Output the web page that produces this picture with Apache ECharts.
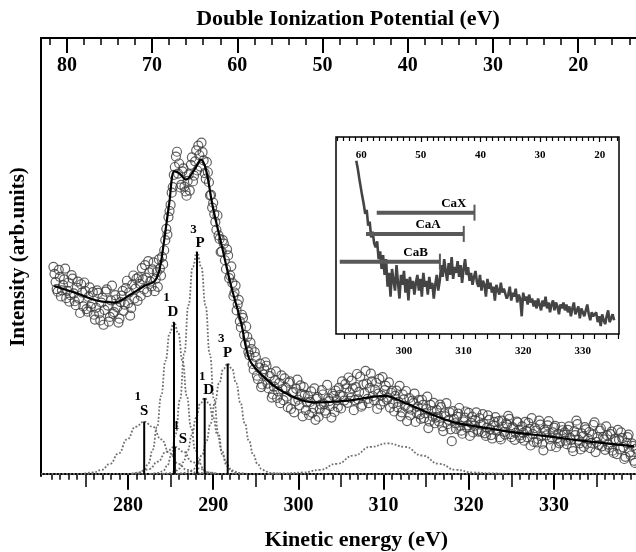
<!DOCTYPE html>
<html>
<head>
<meta charset="utf-8">
<script src="https://cdn.jsdelivr.net/npm/echarts@6/dist/echarts.min.js"></script>
<style>
  html, body { margin: 0; padding: 0; background: #fff; }
  #chart { width: 636px; height: 552px; }
</style>
</head>
<body>
<div id="chart"></div>
<script>
// ---- measured spectrum (kinetic energy grid + counts, arb. units), two sweeps ----
const scanStart = 271.25;
const scanStep = 0.25;
const scanCounts = [
  47.5, 44.0, 41.8, 45.2, 42.1, 44.6, 40.3, 43.9, 41.0, 44.8, 39.6, 42.7, 40.2, 43.5, 38.4, 41.9, 37.2, 42.8, 39.0, 36.5,
  38.1, 41.5, 35.2, 40.4, 37.6, 42.3, 34.9, 39.8, 36.7, 41.0, 38.2, 35.6, 40.9, 37.4, 42.6, 39.1, 36.3, 43.4, 40.2, 44.8,
  45.1, 40.8, 44.6, 47.9, 41.7, 46.2, 43.0, 48.5, 44.7, 42.9, 47.1, 49.8, 51.3, 56.2, 58.9, 61.7, 65.8, 70.4, 73.9, 71.2,
  66.3, 70.1, 64.8, 67.2, 65.0, 72.6, 68.4, 74.2, 75.3, 70.5, 73.8, 69.0, 71.5, 66.9, 64.0, 62.2, 57.8, 59.3, 53.9, 51.0,
  52.8, 47.0, 50.1, 45.5, 43.8, 41.6, 37.5, 39.9, 33.6, 35.8, 29.7, 31.4, 27.2, 28.6, 23.9, 26.8, 21.7, 25.3, 20.5, 24.0,
  24.8, 19.6, 23.1, 18.2, 21.5, 17.4, 20.8, 22.6, 16.9, 19.8, 15.3, 21.2, 18.6, 14.1, 19.5, 17.0, 20.3, 13.2, 18.1, 16.4,
  13.5, 18.9, 15.1, 12.4, 17.6, 14.8, 19.2, 16.0, 13.9, 17.3, 15.5, 18.4, 14.2, 16.9, 19.7, 15.0, 17.8, 20.6, 16.3, 18.7,
  21.4, 14.6, 19.9, 17.1, 22.3, 15.8, 18.5, 20.7, 16.2, 23.0, 17.8, 19.3, 14.9, 21.8, 18.0, 16.6, 20.2, 17.5, 15.2, 19.0,
  14.3, 19.1, 16.5, 13.2, 18.2, 15.6, 12.1, 17.4, 14.7, 16.2, 11.9, 15.4, 13.6, 17.0, 12.8, 14.9, 10.5, 15.8, 13.1, 11.6,
  14.6, 12.0, 15.3, 9.8, 13.2, 11.4, 14.1, 7.5, 12.6, 10.3, 13.8, 11.0, 9.2, 12.9, 10.6, 14.0, 11.7, 9.5, 12.3, 10.1,
  12.8, 9.6, 11.5, 8.7, 13.4, 10.2, 8.1, 11.9, 9.9, 12.1, 7.9, 10.8, 9.0, 11.3, 12.6, 8.4, 10.4, 9.4, 11.8, 8.8,
  10.9, 7.6, 9.8, 11.7, 6.5, 9.1, 10.5, 7.2, 12.2, 8.6, 5.4, 9.7, 11.1, 7.9, 8.3, 10.6, 6.1, 9.2, 7.4, 10.0,
  9.5, 6.8, 10.9, 7.7, 5.2, 8.9, 11.4, 7.0, 9.3, 6.2, 10.2, 8.0, 5.9, 9.0, 11.8, 7.3, 6.6, 10.4, 8.5, 5.5,
  8.8, 6.0, 9.7, 4.8, 7.5, 10.1, 5.6, 8.2, 3.4, 7.1, 9.0, 4.2, 6.4, 2.5
];
const scan2Start = 271.375;
const scan2Counts = [
  45.9, 42.4, 46.8, 40.7, 43.3, 47.1, 42.0, 39.5, 45.6, 41.4, 38.7, 44.1, 36.9, 41.6, 43.9, 37.8, 40.6, 38.3, 41.7, 35.4,
  42.1, 36.8, 39.3, 34.2, 41.8, 38.6, 36.0, 43.2, 37.1, 40.0, 34.7, 39.4, 42.0, 38.8, 44.3, 41.6, 38.0, 45.5, 42.5, 39.7,
  43.6, 47.2, 42.3, 45.0, 48.8, 44.1, 46.9, 41.9, 46.3, 49.2, 45.5, 48.1, 53.6, 54.9, 60.3, 64.5, 68.6, 72.8, 68.9, 65.7,
  69.4, 65.9, 63.8, 68.7, 70.9, 67.1, 71.7, 69.6, 73.1, 76.0, 71.9, 67.7, 69.2, 63.9, 61.1, 59.6, 56.0, 54.7, 50.9, 53.6,
  49.0, 51.5, 44.9, 47.6, 40.8, 43.2, 38.9, 35.0, 36.5, 31.9, 33.8, 28.0, 30.1, 25.2, 27.9, 22.5, 24.4, 19.9, 22.8, 25.6,
  20.7, 22.4, 17.5, 20.0, 23.5, 18.9, 16.2, 19.4, 21.9, 17.7, 20.9, 14.9, 18.8, 16.6, 21.6, 15.7, 18.3, 19.9, 14.6, 17.9,
  16.5, 14.0, 19.6, 17.2, 13.1, 15.9, 18.2, 14.5, 20.4, 16.7, 12.9, 17.9, 19.1, 15.3, 18.1, 21.2, 16.8, 19.6, 22.1, 17.4,
  19.6, 16.9, 22.9, 18.8, 15.4, 20.5, 23.6, 17.2, 19.7, 21.2, 16.9, 20.9, 18.4, 15.9, 22.2, 19.2, 17.0, 21.0, 18.6, 16.1,
  17.9, 15.3, 20.2, 14.1, 17.1, 19.0, 15.0, 13.4, 16.8, 18.4, 14.0, 16.9, 12.6, 15.8, 13.9, 17.7, 12.0, 14.4, 16.3, 12.9,
  13.1, 15.9, 10.9, 13.9, 16.2, 12.4, 10.2, 14.4, 11.6, 13.1, 15.1, 9.9, 12.0, 14.3, 11.1, 8.7, 13.1, 11.0, 14.1, 9.7,
  11.3, 13.7, 9.3, 10.6, 12.4, 8.9, 11.1, 13.0, 10.0, 8.4, 12.2, 9.6, 11.6, 13.3, 9.1, 10.7, 7.8, 12.0, 10.1, 8.2,
  9.4, 11.9, 8.4, 10.3, 12.8, 7.3, 9.9, 8.0, 11.3, 6.9, 10.1, 8.8, 12.1, 6.4, 9.5, 11.0, 8.2, 7.0, 10.8, 9.0,
  7.6, 10.1, 8.3, 6.0, 9.8, 12.2, 7.8, 5.6, 8.6, 10.7, 6.9, 9.6, 7.1, 11.2, 5.0, 8.4, 9.9, 6.3, 7.9, 10.9,
  6.7, 9.1, 5.3, 8.0, 4.5, 7.8, 9.5, 6.1, 3.9, 8.4, 5.0, 7.0, 3.0, 5.8
];

// total fit (solid line)
const fitKE = [271.35, 273.7, 276.44, 278.4, 280.35, 281.9, 283.1, 283.7, 284.26, 284.85, 285.43, 286.0, 286.8,
  287.8, 288.57, 289.15, 289.94, 291.1, 292.1, 293.26, 294.24, 295.6, 297.96, 301.87, 305.79, 310.08, 312.83,
  315.56, 318.3, 321.43, 325.34, 329.26, 333.17, 339.4];
const fitVal = [43.1, 41.6, 39.7, 39.3, 41.2, 43.1, 44.2, 46.9, 53.8, 62.2, 69.4, 69.0, 67.5,
  69.8, 72.1, 69.8, 61.4, 51.5, 43.1, 34.8, 26.3, 22.9, 19.1, 16.4, 16.8, 17.9, 16.0,
  13.7, 11.8, 10.7, 9.5, 8.6, 7.6, 6.3];

// fitted components (dotted), [KE, intensity]
const comp1S = [[274.9, 0.1], [275.9, 0.3], [276.9, 0.9], [277.9, 2.3], [278.9, 4.7], [279.9, 7.9], [280.9, 10.8],
  [281.9, 12.0], [282.9, 10.8], [283.9, 7.9], [284.9, 4.7], [285.9, 2.3], [286.9, 0.9], [287.9, 0.3], [288.9, 0.1]];
const comp1D = [[280.4, 0], [281.4, 0.3], [281.9, 0.9], [282.4, 2.4], [282.9, 5.5], [283.4, 10.7], [283.9, 17.9],
  [284.4, 25.9], [284.9, 32.3], [285.4, 34.8], [285.9, 32.3], [286.4, 25.9], [286.9, 17.9], [287.4, 10.7],
  [287.9, 5.5], [288.4, 2.4], [288.9, 0.9], [289.4, 0.3], [290.4, 0]];
const comp1Sb = [[280.5, 0], [281.5, 0.3], [282.5, 1.1], [283.5, 2.8], [284.5, 5.1], [285.5, 6.2], [286.5, 5.1],
  [287.5, 2.8], [288.5, 1.1], [289.5, 0.3], [290.5, 0]];
const comp3P = [[282.6, 0], [283.6, 0.2], [284.1, 0.6], [284.6, 1.8], [285.1, 4.3], [285.6, 9.2], [286.1, 17.0],
  [286.6, 27.5], [287.1, 38.7], [287.6, 47.5], [288.1, 50.9], [288.6, 47.5], [289.1, 38.7], [289.6, 27.5],
  [290.1, 17.0], [290.6, 9.2], [291.1, 4.3], [291.6, 1.8], [292.1, 0.6], [292.6, 0.2], [293.6, 0]];
const comp1Db = [[284, 0], [285, 0.15], [285.5, 0.5], [286, 1.2], [286.5, 2.7], [287, 5.3], [287.5, 8.9], [288, 12.9],
  [288.5, 16.2], [289, 17.4], [289.5, 16.2], [290, 12.9], [290.5, 8.9], [291, 5.3], [291.5, 2.7], [292, 1.2],
  [292.5, 0.5], [293, 0.15], [294, 0]];
const comp3Pb = [[285.7, 0], [286.7, 0.2], [287.2, 0.5], [287.7, 1.1], [288.2, 2.3], [288.7, 4.4], [289.2, 7.5],
  [289.7, 11.6], [290.2, 16.3], [290.7, 20.8], [291.2, 24.1], [291.7, 25.3], [292.2, 24.1], [292.7, 20.8],
  [293.2, 16.3], [293.7, 11.6], [294.2, 7.5], [294.7, 4.4], [295.2, 2.3], [295.7, 1.1], [296.2, 0.5],
  [296.7, 0.2], [297.7, 0]];
const compBroad = [[296.5, 0], [298.5, 0.1], [300.5, 0.3], [302.5, 0.9], [304.5, 2.3], [306.5, 4.2], [308.5, 6.2],
  [310.5, 7.0], [312.5, 6.2], [314.5, 4.2], [316.5, 2.3], [318.5, 0.9], [320.5, 0.3], [322.5, 0.1], [324.5, 0]];

// term lines
const stickKE = [281.9, 285.4, 285.5, 288.1, 289.0, 291.7];
const stickHeight = [12.0, 34.8, 6.2, 50.9, 17.4, 25.3];
const stickMult = ['1', '1', '1', '3', '1', '3'];
const stickTerm = ['S', 'D', 'S', 'P', 'D', 'P'];

// inset spectrum
const instStart = 292.0;
const instStep = 0.25;
const instCounts = [
  88, 84, 79, 80, 70, 66, 61, 63, 55, 57, 49, 52, 46, 44, 47, 38, 42, 33, 40, 30,
  38, 24, 31, 19, 33, 27, 22, 35, 26, 18, 30, 25, 32, 21, 28, 17, 29, 23, 27, 20,
  26, 30, 22, 28, 19, 31, 24, 27, 20, 29, 23, 26, 18, 25, 30, 22, 27, 35, 29, 38,
  32, 27, 36, 30, 39, 28, 34, 31, 37, 29, 35, 26, 33, 38, 30, 34, 27, 31, 25, 29,
  32, 26, 24, 30, 22, 27, 25, 19, 28, 23, 26, 21, 24, 17, 25, 22, 20, 26, 21, 23,
  22, 18, 20, 24, 17, 21, 19, 23, 16, 20, 18, 9, 21, 17, 19, 15, 20, 16, 18, 14,
  17, 13, 18, 15, 12, 17, 14, 19, 13, 16, 11, 15, 17, 12, 16, 14, 10, 15, 13, 16,
  12, 15, 11, 14, 9, 13, 16, 10, 12, 14, 8, 13, 11, 9, 12, 15, 10, 7, 11, 9,
  8, 11, 6, 9, 4, 10, 7, 5, 9, 12, 6, 8, 10, 7
];
// ionization ranges in the inset (DIP, eV)
const instNames = ['CaX', 'CaA', 'CaB'];
const instFrom = [57.4, 59.2, 63.6];
const instTo = [41.0, 42.8, 46.8];

// tick labels
const keTicks = [280, 290, 300, 310, 320, 330];
const keHalfTicks = [275, 285, 295, 305, 315, 325, 335];
const dipTicks = [80, 70, 60, 50, 40, 30, 20];
const instKeTicks = [300, 310, 320, 330];
const instDipTicks = [60, 50, 40, 30, 20];

// ---- layout ----
const KE_MIN = 269.79, KE_MAX = 339.62, DIP_SUM = 352.83;
const INS_MIN = 288.6, INS_MAX = 336.07;
const instRows = [61.6, 50.8, 36.7];
const instLabelGap = [8, 23, 12];
const labelShift = [[0, 0], [-1, 0], [8, 3], [3, 2], [4, 3], [0, 0]];
const serif = 'Liberation Serif';
const black = '#000';

const scan = scanCounts.map((v, i) => [scanStart + i * scanStep, v])
  .concat(scan2Counts.map((v, i) => [scan2Start + i * scanStep, v]));
const fit = fitKE.map((k, i) => [k, fitVal[i]]);
const inst = instCounts.map((v, i) => [instStart + i * instStep, v]);
const sticks = stickKE.map((k, i) => ({
  value: [k, stickHeight[i]],
  label: { formatter: '{m|' + stickMult[i] + '}\n{t|' + stickTerm[i] + '}', offset: labelShift[i] }
}));
const ranges = instNames.map((n, i) => [instFrom[i], instTo[i], instRows[i]]);

const txt = (size) => ({ fontFamily: serif, fontWeight: 'bold', fontSize: size, color: black });

const dotted = (data) => ({
  type: 'line', xAxisIndex: 0, yAxisIndex: 0, data: data,
  smooth: 0.5, smoothMonotone: 'x', showSymbol: false, silent: true, z: 1,
  lineStyle: { type: 'dotted', color: '#707070', width: 1.8 }
});

const chart = echarts.init(document.getElementById('chart'));
chart.setOption({
  animation: false,
  backgroundColor: '#fff',
  grid: [
    { left: 41, right: 0, top: 38, bottom: 76, outerBoundsMode: 'none' },
    { left: 336, top: 137, width: 283, height: 197, show: true, backgroundColor: '#fff',
      borderColor: black, borderWidth: 1.5, outerBoundsMode: 'none' }
  ],
  xAxis: [
    { // kinetic energy
      type: 'value', gridIndex: 0, position: 'bottom', min: KE_MIN, max: KE_MAX, splitNumber: 7,
      axisLine: { lineStyle: { color: black, width: 2 } },
      axisTick: { length: 16, customValues: keTicks, lineStyle: { color: black, width: 2 } },
      minorTick: { show: true, splitNumber: 10, length: 6, lineStyle: { color: black, width: 1.5 } },
      axisLabel: Object.assign({ customValues: keTicks, margin: 20 }, txt(20)),
      splitLine: { show: false },
      name: 'Kinetic energy (eV)', nameLocation: 'middle', nameGap: 53,
      nameTextStyle: Object.assign({ padding: [0, 0, 0, 36] }, txt(22))
    },
    { // 5 eV ticks
      type: 'value', gridIndex: 0, position: 'bottom', min: KE_MIN, max: KE_MAX,
      axisLine: { show: false },
      axisTick: { length: 11, customValues: keHalfTicks, lineStyle: { color: black, width: 1.5 } },
      axisLabel: { show: false }, splitLine: { show: false }
    },
    { // double ionization potential
      type: 'value', gridIndex: 0, position: 'top', inverse: true, splitNumber: 7,
      min: DIP_SUM - KE_MAX, max: DIP_SUM - KE_MIN,
      axisLine: { lineStyle: { color: black, width: 2 } },
      axisTick: { inside: true, length: 15, customValues: dipTicks, lineStyle: { color: black, width: 2 } },
      minorTick: { show: true, splitNumber: 5, length: 7, lineStyle: { color: black, width: 1.5 } },
      axisLabel: Object.assign({ inside: true, customValues: dipTicks, margin: 18 }, txt(20)),
      splitLine: { show: false },
      name: 'Double Ionization Potential (eV)', nameLocation: 'middle', nameGap: 8,
      nameTextStyle: Object.assign({ padding: [0, 0, 0, 19] }, txt(22))
    },
    { // inset kinetic energy
      type: 'value', gridIndex: 1, position: 'bottom', min: INS_MIN, max: INS_MAX, splitNumber: 5,
      axisLine: { show: false },
      axisTick: { length: 5, customValues: [290].concat(instKeTicks), lineStyle: { color: black, width: 1.2 } },
      minorTick: { show: true, splitNumber: 5, length: 5, lineStyle: { color: black, width: 1.2 } },
      axisLabel: Object.assign({ customValues: instKeTicks, margin: 12 }, txt(11)),
      splitLine: { show: false }
    },
    { // inset DIP
      type: 'value', gridIndex: 1, position: 'top', inverse: true, splitNumber: 5,
      min: DIP_SUM - INS_MAX, max: DIP_SUM - INS_MIN,
      axisLine: { show: false },
      axisTick: { inside: true, length: 5, customValues: instDipTicks, lineStyle: { color: black, width: 1.2 } },
      minorTick: { show: true, splitNumber: 10, length: 4, lineStyle: { color: black, width: 1.2 } },
      axisLabel: Object.assign({ inside: true, customValues: instDipTicks, margin: 13 }, txt(11)),
      splitLine: { show: false }
    }
  ],
  yAxis: [
    {
      type: 'value', gridIndex: 0, min: -0.5, max: 100,
      axisLine: { show: true, lineStyle: { color: black, width: 2 } },
      axisTick: { show: false }, axisLabel: { show: false }, splitLine: { show: false },
      name: 'Intensity (arb.units)', nameLocation: 'middle', nameGap: 12, nameTextStyle: txt(21)
    },
    { type: 'value', gridIndex: 1, min: 0, max: 100, show: false }
  ],
  series: [
    dotted([[KE_MIN, 0], [KE_MAX, 0]]),
    dotted(comp1S), dotted(comp1D), dotted(comp1Sb), dotted(comp3P),
    dotted(comp1Db), dotted(comp3Pb), dotted(compBroad),
    {
      type: 'bar', xAxisIndex: 0, yAxisIndex: 0, barWidth: 2, data: sticks, z: 2,
      itemStyle: { color: black },
      label: {
        show: true, position: 'top', distance: 3,
        rich: {
          m: Object.assign({ padding: [0, 13, 0, 0], lineHeight: 13 }, txt(13)),
          t: Object.assign({ lineHeight: 15 }, txt(15))
        }
      }
    },
    {
      type: 'scatter', xAxisIndex: 0, yAxisIndex: 0, data: scan, symbol: 'circle', symbolSize: 9, z: 3,
      itemStyle: { color: 'rgba(0,0,0,0)', borderColor: '#3a3a3a', borderWidth: 1.2 }
    },
    {
      type: 'line', xAxisIndex: 0, yAxisIndex: 0, data: fit, smooth: 0.35, showSymbol: false, z: 4,
      lineStyle: { color: black, width: 2.2 }
    },
    {
      type: 'line', xAxisIndex: 3, yAxisIndex: 1, data: inst, showSymbol: false, z: 6,
      lineStyle: { color: '#444', width: 2.6 }
    },
    {
      type: 'custom', xAxisIndex: 4, yAxisIndex: 1, data: ranges, z: 7,
      renderItem: function (params, api) {
        const a = api.coord([api.value(0), api.value(2)]);
        const b = api.coord([api.value(1), api.value(2)]);
        const x1 = Math.min(a[0], b[0]), x2 = Math.max(a[0], b[0]), y = a[1];
        return {
          type: 'group', children: [
            { type: 'rect', shape: { x: x1, y: y - 2, width: x2 - x1, height: 4 }, style: { fill: '#595959' } },
            { type: 'line', shape: { x1: x2, y1: y - 8, x2: x2, y2: y + 8 }, style: { stroke: '#595959', lineWidth: 2 } },
            { type: 'text', x: x2 - instLabelGap[params.dataIndex], y: y - 3,
              style: { text: instNames[params.dataIndex], align: 'right', verticalAlign: 'bottom',
                       font: 'bold 13px "Liberation Serif"', fill: black } }
          ]
        };
      }
    }
  ]
});
</script>
</body>
</html>
